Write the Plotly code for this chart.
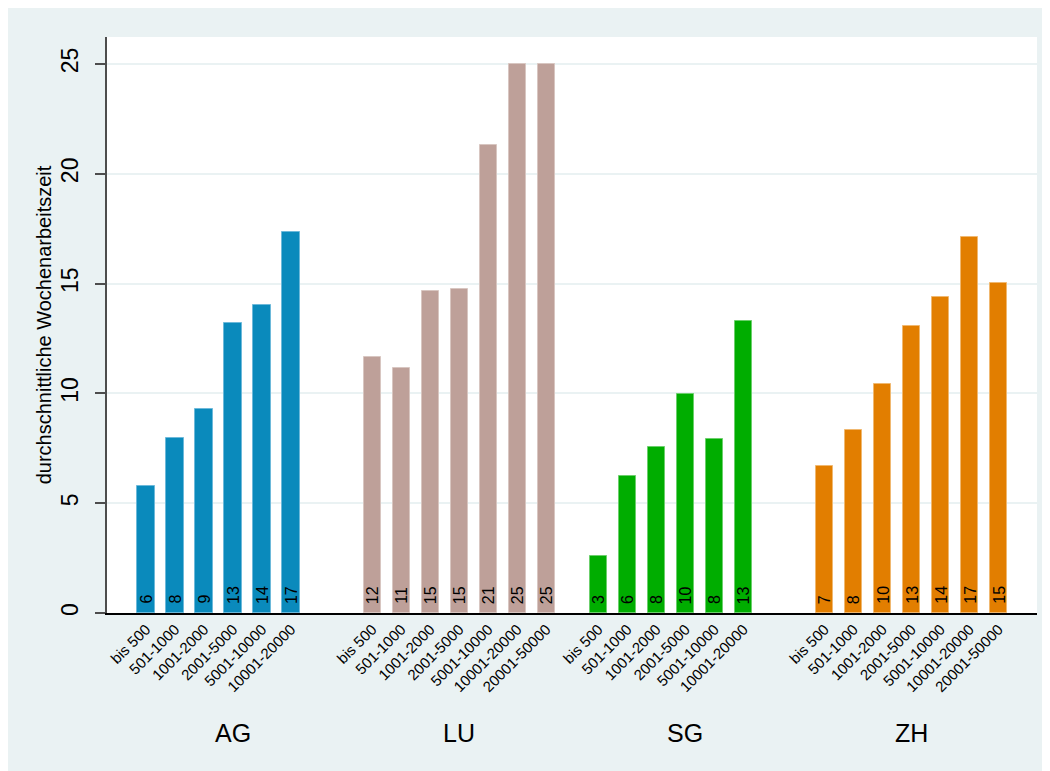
import plotly.graph_objects as go

cantons = ["AG", "LU", "SG", "ZH"]
sizes = ["bis 500", "501-1000", "1001-2000", "2001-5000",
         "5001-10000", "10001-20000", "20001-50000"]
ag = [5.80, 7.97, 9.28, 13.19, 14.03, 17.36, None]
lu = [11.66, 11.16, 14.66, 14.75, 21.31, 25.0, 25.0]
sg = [2.60, 6.22, 7.56, 9.97, 7.91, 13.30, None]
zh = [6.71, 8.32, 10.41, 13.08, 14.39, 17.11, 15.01]
values = [ag, lu, sg, zh]
colors = ["#0A8ABC", "#BEA099", "#00AD00", "#E27E00"]
edge_colors = ["#6DB9DA", "#D8C6C1", "#6CCF6C", "#F0B870"]
y_title = "durchschnittliche Wochenarbeitszeit"

GROUP_PERIOD = 7.8
FONT = "Liberation Sans, Arial, sans-serif"

fig = go.Figure()
tickvals, ticktext = [], []
annotations = []
for g, (canton, vals) in enumerate(zip(cantons, values)):
    xs, ys = [], []
    for i, v in enumerate(vals):
        if v is None:
            continue
        x = g * GROUP_PERIOD + i
        xs.append(x)
        ys.append(v)
        tickvals.append(x)
        ticktext.append(sizes[i])
        annotations.append(dict(
            x=x, y=0, xref="x", yref="y", text=f"{round(v)}",
            textangle=-90, showarrow=False, yanchor="bottom", xanchor="center",
            yshift=7, font=dict(family=FONT, size=16, color="black")))
    fig.add_trace(go.Bar(
        x=xs, y=ys, name=canton, width=0.6,
        marker=dict(color=colors[g], line=dict(color=edge_colors[g], width=1)),
        showlegend=False))
    annotations.append(dict(
        x=g * GROUP_PERIOD + 3, y=-0.208, xref="x", yref="paper",
        text=canton, showarrow=False, xanchor="center", yanchor="middle",
        font=dict(family=FONT, size=25, color="black")))

BG = "#EAF2F3"

fig.update_layout(
    width=1042, height=763,
    margin=dict(l=99, r=13, t=29, b=158, autoexpand=False),
    paper_bgcolor=BG, plot_bgcolor="white",
    font=dict(family=FONT, color="black"),
    bargap=0, annotations=annotations,
    xaxis=dict(range=[-1.345, 30.72], tickvals=tickvals, ticktext=ticktext,
               tickangle=-45, tickfont=dict(size=15), showgrid=False,
               zeroline=False, showline=True, linecolor="black", linewidth=1.5,
               ticks="", automargin=False),
    yaxis=dict(range=[0, 26.23], tickvals=[0, 5, 10, 15, 20, 25],
               tickangle=-90, tickfont=dict(size=23), showgrid=True,
               gridcolor=BG, gridwidth=2, zeroline=False, showline=True,
               linecolor="#4d4d4d", linewidth=1.5, ticks="outside", ticklen=10,
               tickwidth=1.5, tickcolor="#4d4d4d", automargin=False,
               ticklabelstandoff=8,
               title=dict(text=y_title, font=dict(size=20), standoff=0)),
)

fig.write_html("out.html")
